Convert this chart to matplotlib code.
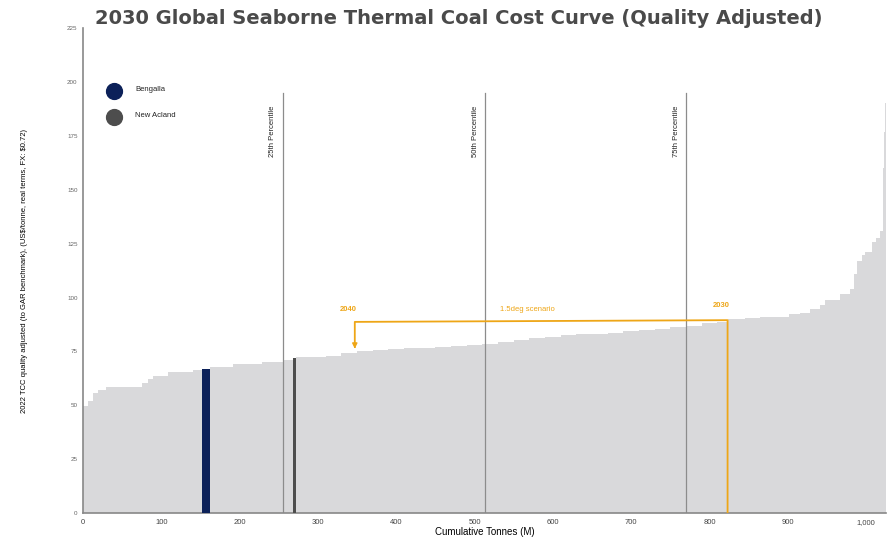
import matplotlib
matplotlib.use("Agg")
import matplotlib.pyplot as plt
import numpy as np

# cost curve steps: edges (cumulative Mt) and cost per step (US$/t)
edges = [0, 6, 13, 19, 29, 75, 83, 89, 108, 140, 152, 162, 191, 228, 255, 268, 272,
         290, 310, 330, 350, 370, 390, 410, 430, 450, 470, 490, 510, 530, 550, 570,
         590, 610, 630, 650, 670, 690, 710, 730, 750, 770, 790, 810, 823, 845, 865,
         902, 915, 928, 941, 948, 966, 979, 985, 988, 994, 999, 1007, 1012, 1017,
         1021, 1022, 1023, 1024, 1025]
costs = [49.6, 52, 55.7, 57, 58.7, 60.3, 62, 63.5, 65.4, 66.3, 66.8, 67.7, 69, 70,
         71.2, 72, 72.2, 72.6, 73, 74.2, 75, 75.6, 76, 76.4, 76.7, 77, 77.4, 77.9,
         78.6, 79.3, 80.2, 81.2, 81.8, 82.6, 83, 83.3, 83.6, 84.3, 84.8, 85.4, 86.2,
         87, 88, 88.8, 90.2, 90.6, 91, 92.3, 92.8, 94.6, 96.5, 98.8, 101.5, 104, 111,
         117, 119.7, 121, 125.7, 127.5, 131, 145, 160, 177, 190]

# highlighted mines
mines = ["Bengalla", "New Acland"]
mine_start = [152, 268]
mine_width = [10, 4]
mine_cost = [66.8, 72]
mine_colors = ["#0c2159", "#4d4d4d"]

percentiles = ["25th Percentile", "50th Percentile", "75th Percentile"]
percentile_x = [255, 513, 770]
percentile_top = 195

# 1.5deg scenario shift: 2030 -> 2040
scen_2030_x, scen_2030_y = 823, 89.5
scen_2040_x, scen_2040_y = 347, 88.7
scen_2040_cost = 75

orange = "#eea617"
plt.rcParams['font.family'] = ['Liberation Sans', 'DejaVu Sans']

fig = plt.figure(figsize=(8.88, 5.39), dpi=100)
ax = fig.add_axes([0.0935, 0.048, 0.904, 0.9])

ax.stairs(costs, edges, fill=True, color="#d9d9db", linewidth=0)
for name, s, w, c, col in zip(mines, mine_start, mine_width, mine_cost, mine_colors):
    ax.bar(s, c, width=w, align="edge", color=col, linewidth=0, zorder=3)

for lab, px in zip(percentiles, percentile_x):
    ax.plot([px, px], [0, percentile_top], color="#8c8c8c", linewidth=0.9, zorder=2)
    ax.text(px - 8, 189, lab, rotation=90, ha="right", va="top", fontsize=5.5,
            color="#222222")

# scenario path
ax.plot([scen_2030_x, scen_2030_x, scen_2040_x, scen_2040_x],
        [0, scen_2030_y, scen_2040_y, scen_2040_cost + 3],
        color=orange, linewidth=1.3, zorder=4)
ax.annotate("", xy=(scen_2040_x, scen_2040_cost), xytext=(scen_2040_x, scen_2040_cost + 3.5),
            arrowprops=dict(arrowstyle="-|>,head_width=0.15,head_length=0.3",
                            color=orange, lw=1.0), zorder=4)
ax.text(scen_2040_x - 8, 93, "2040", color=orange, fontsize=5.5, ha="center",
        va="bottom", fontweight="bold")
ax.text(532, 93, "1.5deg scenario", color=orange, fontsize=5.5, ha="left", va="bottom")
ax.text(815, 94.8, "2030", color=orange, fontsize=5.5, ha="center", va="bottom",
        fontweight="bold")

# legend
for i, (name, col) in enumerate(zip(mines, mine_colors)):
    yy = 0.87 - i * 0.054
    ax.scatter([0.038], [yy], s=130, color=col, transform=ax.transAxes, clip_on=False)
    ax.text(0.065, yy + 0.004, name, transform=ax.transAxes, fontsize=5.5, va="center",
            color="#222222")

ax.set_xlim(0, 1025)
ax.set_ylim(0, 225)
ax.set_yticks(np.arange(0, 226, 25))
ax.set_xticks(np.arange(0, 1001, 100))
ax.set_xticklabels([f"{v:,}" for v in range(0, 1001, 100)])
ax.tick_params(length=0, labelsize=5.5, labelcolor="#444444", pad=4)
ax.tick_params(axis="y", labelsize=4.5, labelcolor="#666666", pad=4)
for s in ["top", "right"]:
    ax.spines[s].set_visible(False)
for s in ["left", "bottom"]:
    ax.spines[s].set_color("#888888")
    ax.spines[s].set_linewidth(1.2)

ax.set_xlabel("Cumulative Tonnes (M)", fontsize=7, labelpad=1)
ax.set_ylabel(r"2022 TCC quality adjusted (to GAR benchmark), (US\$/tonne, real terms, FX: \$0.72)",
              fontsize=5.5, labelpad=28)

fig.text(0.517, 0.965, "2030 Global Seaborne Thermal Coal Cost Curve (Quality Adjusted)",
         ha="center", va="center", fontsize=14, fontweight="bold", color="#4a4a4a",
         family=["DejaVu Sans"])

fig.savefig("out.png", dpi=100)
